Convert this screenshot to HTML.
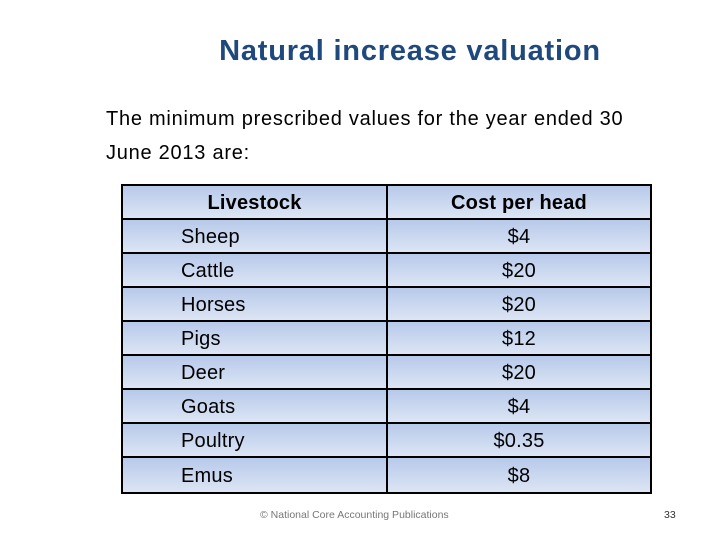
<!DOCTYPE html>
<html><head><meta charset="utf-8"><style>
body{margin:0;background:#fff;}
#slide{position:relative;width:720px;height:540px;overflow:hidden;background:#fff;font-family:"Liberation Sans",sans-serif;}
#title{position:absolute;left:0;width:820px;top:35px;text-align:center;font-weight:bold;font-size:29px;color:#1f497d;letter-spacing:0.8px;}
.body{position:absolute;left:106px;font-size:20px;color:#000;letter-spacing:0.75px;}
#tbl{position:absolute;left:121px;top:184px;width:531px;height:310px;box-sizing:border-box;border:2px solid #000;background:#000;}
.cell{position:absolute;box-sizing:border-box;background:linear-gradient(#b7c9ea,#dce5f4);font-size:20px;color:#000;padding-top:2px;letter-spacing:0.2px;}
#foot{position:absolute;left:260px;top:509px;font-size:10.5px;color:#777;}
#pg{position:absolute;left:664px;top:509px;font-size:10.5px;color:#333;}
</style></head><body>
<div id="slide">
<div id="title">Natural increase valuation</div>
<div class="body" style="top:108px">The minimum prescribed values for the year ended 30</div>
<div class="body" style="top:142px">June 2013 are:</div>
<div id="tbl"></div>
<div id="foot">© National Core Accounting Publications</div>
<div id="pg">33</div>
</div>
<script>
const animals=["Sheep","Cattle","Horses","Pigs","Deer","Goats","Poultry","Emus"];
const costs=["$4","$20","$20","$12","$20","$4","$0.35","$8"];
const headers=["Livestock","Cost per head"];
const tbl=document.getElementById('tbl');
const rowH=(310-4)/9, split=264;
function cell(r,c,text,bold){
  const d=document.createElement('div');
  d.className='cell';
  
  
  const top=r*rowH, h=rowH-(r<8?2:0);
  d.style.top=top+'px';d.style.height=h+'px';
  if(c===0){d.style.left='0px';d.style.width=(split-1)+'px';}
  else{d.style.left=(split+1)+'px';d.style.width=(527-split-1)+'px';}
  d.style.lineHeight=(h-2)+'px';
  if(bold){d.style.fontWeight='bold';}
  if(c===1||r===0){d.style.textAlign='center';}else{d.style.paddingLeft='58px';}
  d.textContent=text;
  tbl.appendChild(d);
}
cell(0,0,headers[0],true);cell(0,1,headers[1],true);
animals.forEach((a,i)=>{cell(i+1,0,a,false);cell(i+1,1,costs[i],false);});
</script>
</body></html>
